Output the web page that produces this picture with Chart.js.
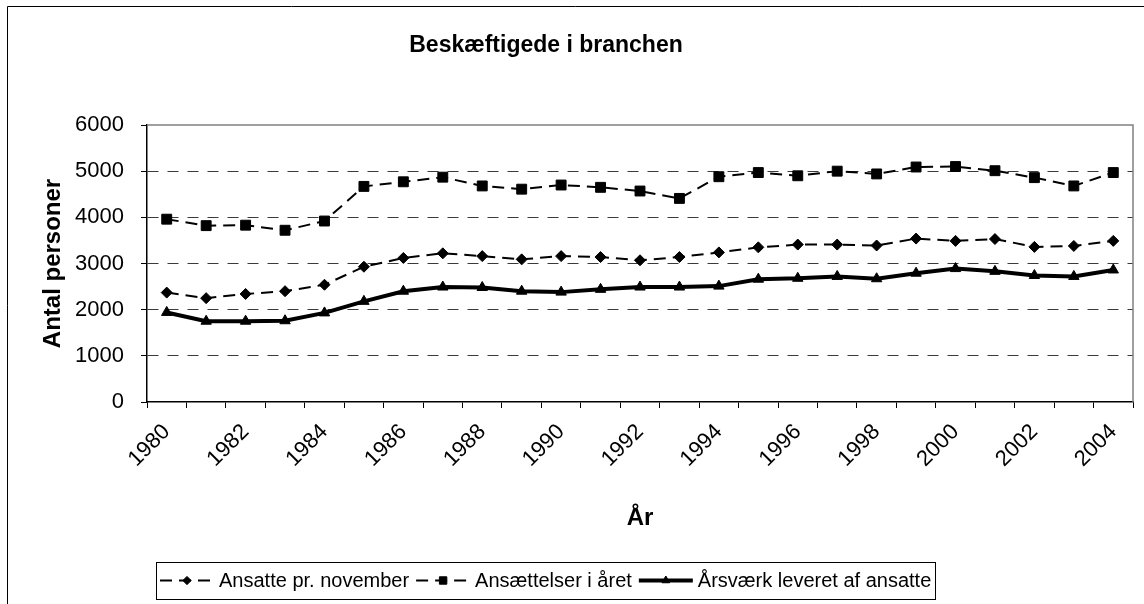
<!DOCTYPE html>
<html>
<head>
<meta charset="utf-8">
<script src="https://cdn.jsdelivr.net/npm/chart.js@4.4.0/dist/chart.umd.min.js"></script>
<style>
  body { margin: 0; background: #fff; }
  #wrap { width: 1144px; height: 604px; position: relative; }
</style>
</head>
<body>
<div id="wrap"><canvas id="chart" width="1144" height="604"></canvas></div>
<script>
// --- data ---
const years = ['1980','1981','1982','1983','1984','1985','1986','1987','1988','1989',
               '1990','1991','1992','1993','1994','1995','1996','1997','1998','1999',
               '2000','2001','2002','2003','2004'];
const ansatteNov = [2370, 2250, 2340, 2400, 2540, 2930, 3120, 3220, 3160, 3090,
                    3160, 3140, 3070, 3140, 3240, 3350, 3410, 3410, 3390, 3540,
                    3490, 3530, 3360, 3380, 3490];
const ansaettelser = [3960, 3820, 3830, 3720, 3920, 4670, 4770, 4870, 4680, 4610,
                      4700, 4650, 4570, 4410, 4880, 4970, 4900, 5000, 4940, 5090,
                      5100, 5010, 4860, 4680, 4970];
const aarsvaerk = [1940, 1750, 1750, 1760, 1930, 2180, 2400, 2490, 2480, 2400,
                   2380, 2440, 2490, 2490, 2510, 2660, 2680, 2720, 2670, 2790,
                   2890, 2830, 2740, 2720, 2860];
const yMin = 0, yMax = 6000, yStep = 1000;

const FONT = "'Liberation Sans', Arial, sans-serif";
const TITLE = 'Beskæftigede i branchen';
const CENTER_X = 546;

// frame, plot border, title and boxed legend (Excel look)
const excelDecor = {
    id: 'excelDecor',
    afterDraw(chart) {
        const ctx = chart.ctx;
        const area = chart.chartArea;
        ctx.save();

        // outer chart frame (left + top visible)
        ctx.strokeStyle = '#000';
        ctx.lineWidth = 1;
        ctx.beginPath();
        ctx.moveTo(7.5, 604);
        ctx.lineTo(7.5, 6.5);
        ctx.lineTo(1144, 6.5);
        ctx.stroke();

        // plot area border top + right
        ctx.strokeStyle = '#808080';
        ctx.lineWidth = 1.5;
        ctx.beginPath();
        ctx.moveTo(area.left, area.top);
        ctx.lineTo(area.right, area.top);
        ctx.lineTo(area.right, area.bottom);
        ctx.stroke();

        // title
        ctx.fillStyle = '#000';
        ctx.font = `bold 23px ${FONT}`;
        ctx.textAlign = 'center';
        ctx.textBaseline = 'middle';
        ctx.fillText(TITLE, CENTER_X, 46);

        // legend
        ctx.font = `20px ${FONT}`;
        ctx.textAlign = 'left';
        const sampleW = 54, gapText = 5, gapItem = 7, pad = 4;
        const items = chart.data.datasets.map(ds => ({
            ds, w: sampleW + gapText + ctx.measureText(ds.label).width
        }));
        const total = items.reduce((s, it) => s + it.w, 0) + gapItem * (items.length - 1) + pad * 2;
        let x = Math.round(CENTER_X - total / 2);
        const top = 562, h = 37, cy = top + h / 2;
        ctx.strokeStyle = '#000';
        ctx.lineWidth = 1;
        ctx.strokeRect(x + 0.5, top + 0.5, Math.round(total), h);
        x += pad;
        items.forEach(it => {
            const ds = it.ds;
            ctx.save();
            ctx.strokeStyle = '#000';
            ctx.lineWidth = ds.borderWidth;
            ctx.setLineDash(ds.borderDash || []);
            ctx.beginPath();
            ctx.moveTo(x, cy);
            ctx.lineTo(x + sampleW, cy);
            ctx.stroke();
            ctx.setLineDash([]);
            ctx.fillStyle = '#000';
            ctx.lineWidth = 1;
            Chart.helpers.drawPoint(ctx, {
                pointStyle: ds.pointStyle,
                radius: ds.pointRadius * 0.75,
                borderWidth: 1,
                rotation: 0
            }, x + sampleW / 2, cy);
            ctx.restore();
            ctx.fillStyle = '#000';
            ctx.fillText(ds.label, x + sampleW + gapText, cy + 1);
            x += it.w + gapItem;
        });
        ctx.restore();
    }
};

const baseSeries = {
    borderColor: '#000',
    backgroundColor: '#000',
    pointBackgroundColor: '#000',
    pointBorderColor: '#000',
    pointBorderWidth: 1,
    tension: 0,
    fill: false
};

new Chart(document.getElementById('chart').getContext('2d'), {
    type: 'line',
    data: {
        labels: years,
        datasets: [
            Object.assign({}, baseSeries, {
                label: 'Ansatte pr. november',
                data: ansatteNov,
                borderWidth: 2,
                borderDash: [12, 7],
                pointStyle: 'rectRot',
                pointRadius: 5.5
            }),
            Object.assign({}, baseSeries, {
                label: 'Ansættelser i året',
                data: ansaettelser,
                borderWidth: 2,
                borderDash: [12, 7],
                pointStyle: 'rect',
                pointRadius: 7
            }),
            Object.assign({}, baseSeries, {
                label: 'Årsværk leveret af ansatte',
                data: aarsvaerk,
                borderWidth: 4,
                borderDash: [],
                pointStyle: 'triangle',
                pointRadius: 6
            })
        ]
    },
    options: {
        responsive: false,
        animation: false,
        layout: {
            padding: { top: 125, left: 0, right: 11, bottom: 71 }
        },
        plugins: {
            legend: { display: false },
            title: { display: false },
            tooltip: { enabled: false }
        },
        scales: {
            x: {
                type: 'category',
                offset: true,
                afterFit: s => { s.height = 131; },
                grid: {
                    offset: true,
                    drawOnChartArea: false,
                    drawTicks: true,
                    tickLength: 6,
                    tickColor: '#000',
                    tickWidth: 1
                },
                border: { display: true, color: '#000', width: 1.5 },
                ticks: {
                    autoSkip: false,
                    maxRotation: 45,
                    minRotation: 45,
                    padding: 11,
                    color: '#000',
                    font: { family: FONT, size: 22 },
                    callback: function(value, index) {
                        return index % 2 === 0 ? years[index] : '';
                    }
                },
                title: {
                    display: true,
                    text: 'År',
                    color: '#000',
                    font: { family: FONT, size: 24, weight: 'bold' },
                    padding: { top: 0, bottom: 0 }
                }
            },
            y: {
                min: yMin,
                max: yMax,
                afterFit: s => { s.width = 147; },
                grid: {
                    color: c => (c.tick && (c.tick.value === yMin || c.tick.value === yMax)) ? 'rgba(0,0,0,0)' : '#3a3a3a',
                    lineWidth: 1,
                    tickLength: 6,
                    tickColor: '#000',
                    tickWidth: 1,
                    tickBorderDash: []
                },
                border: { display: true, color: '#000', width: 1.5, dash: [11, 9] },
                ticks: {
                    stepSize: yStep,
                    padding: 17,
                    color: '#000',
                    font: { family: FONT, size: 22 },
                    callback: v => String(v)
                },
                title: {
                    display: true,
                    text: 'Antal personer',
                    color: '#000',
                    font: { family: FONT, size: 24, weight: 'bold' },
                    padding: { top: 39, bottom: 0 }
                }
            }
        }
    },
    plugins: [excelDecor]
});
</script>
</body>
</html>
